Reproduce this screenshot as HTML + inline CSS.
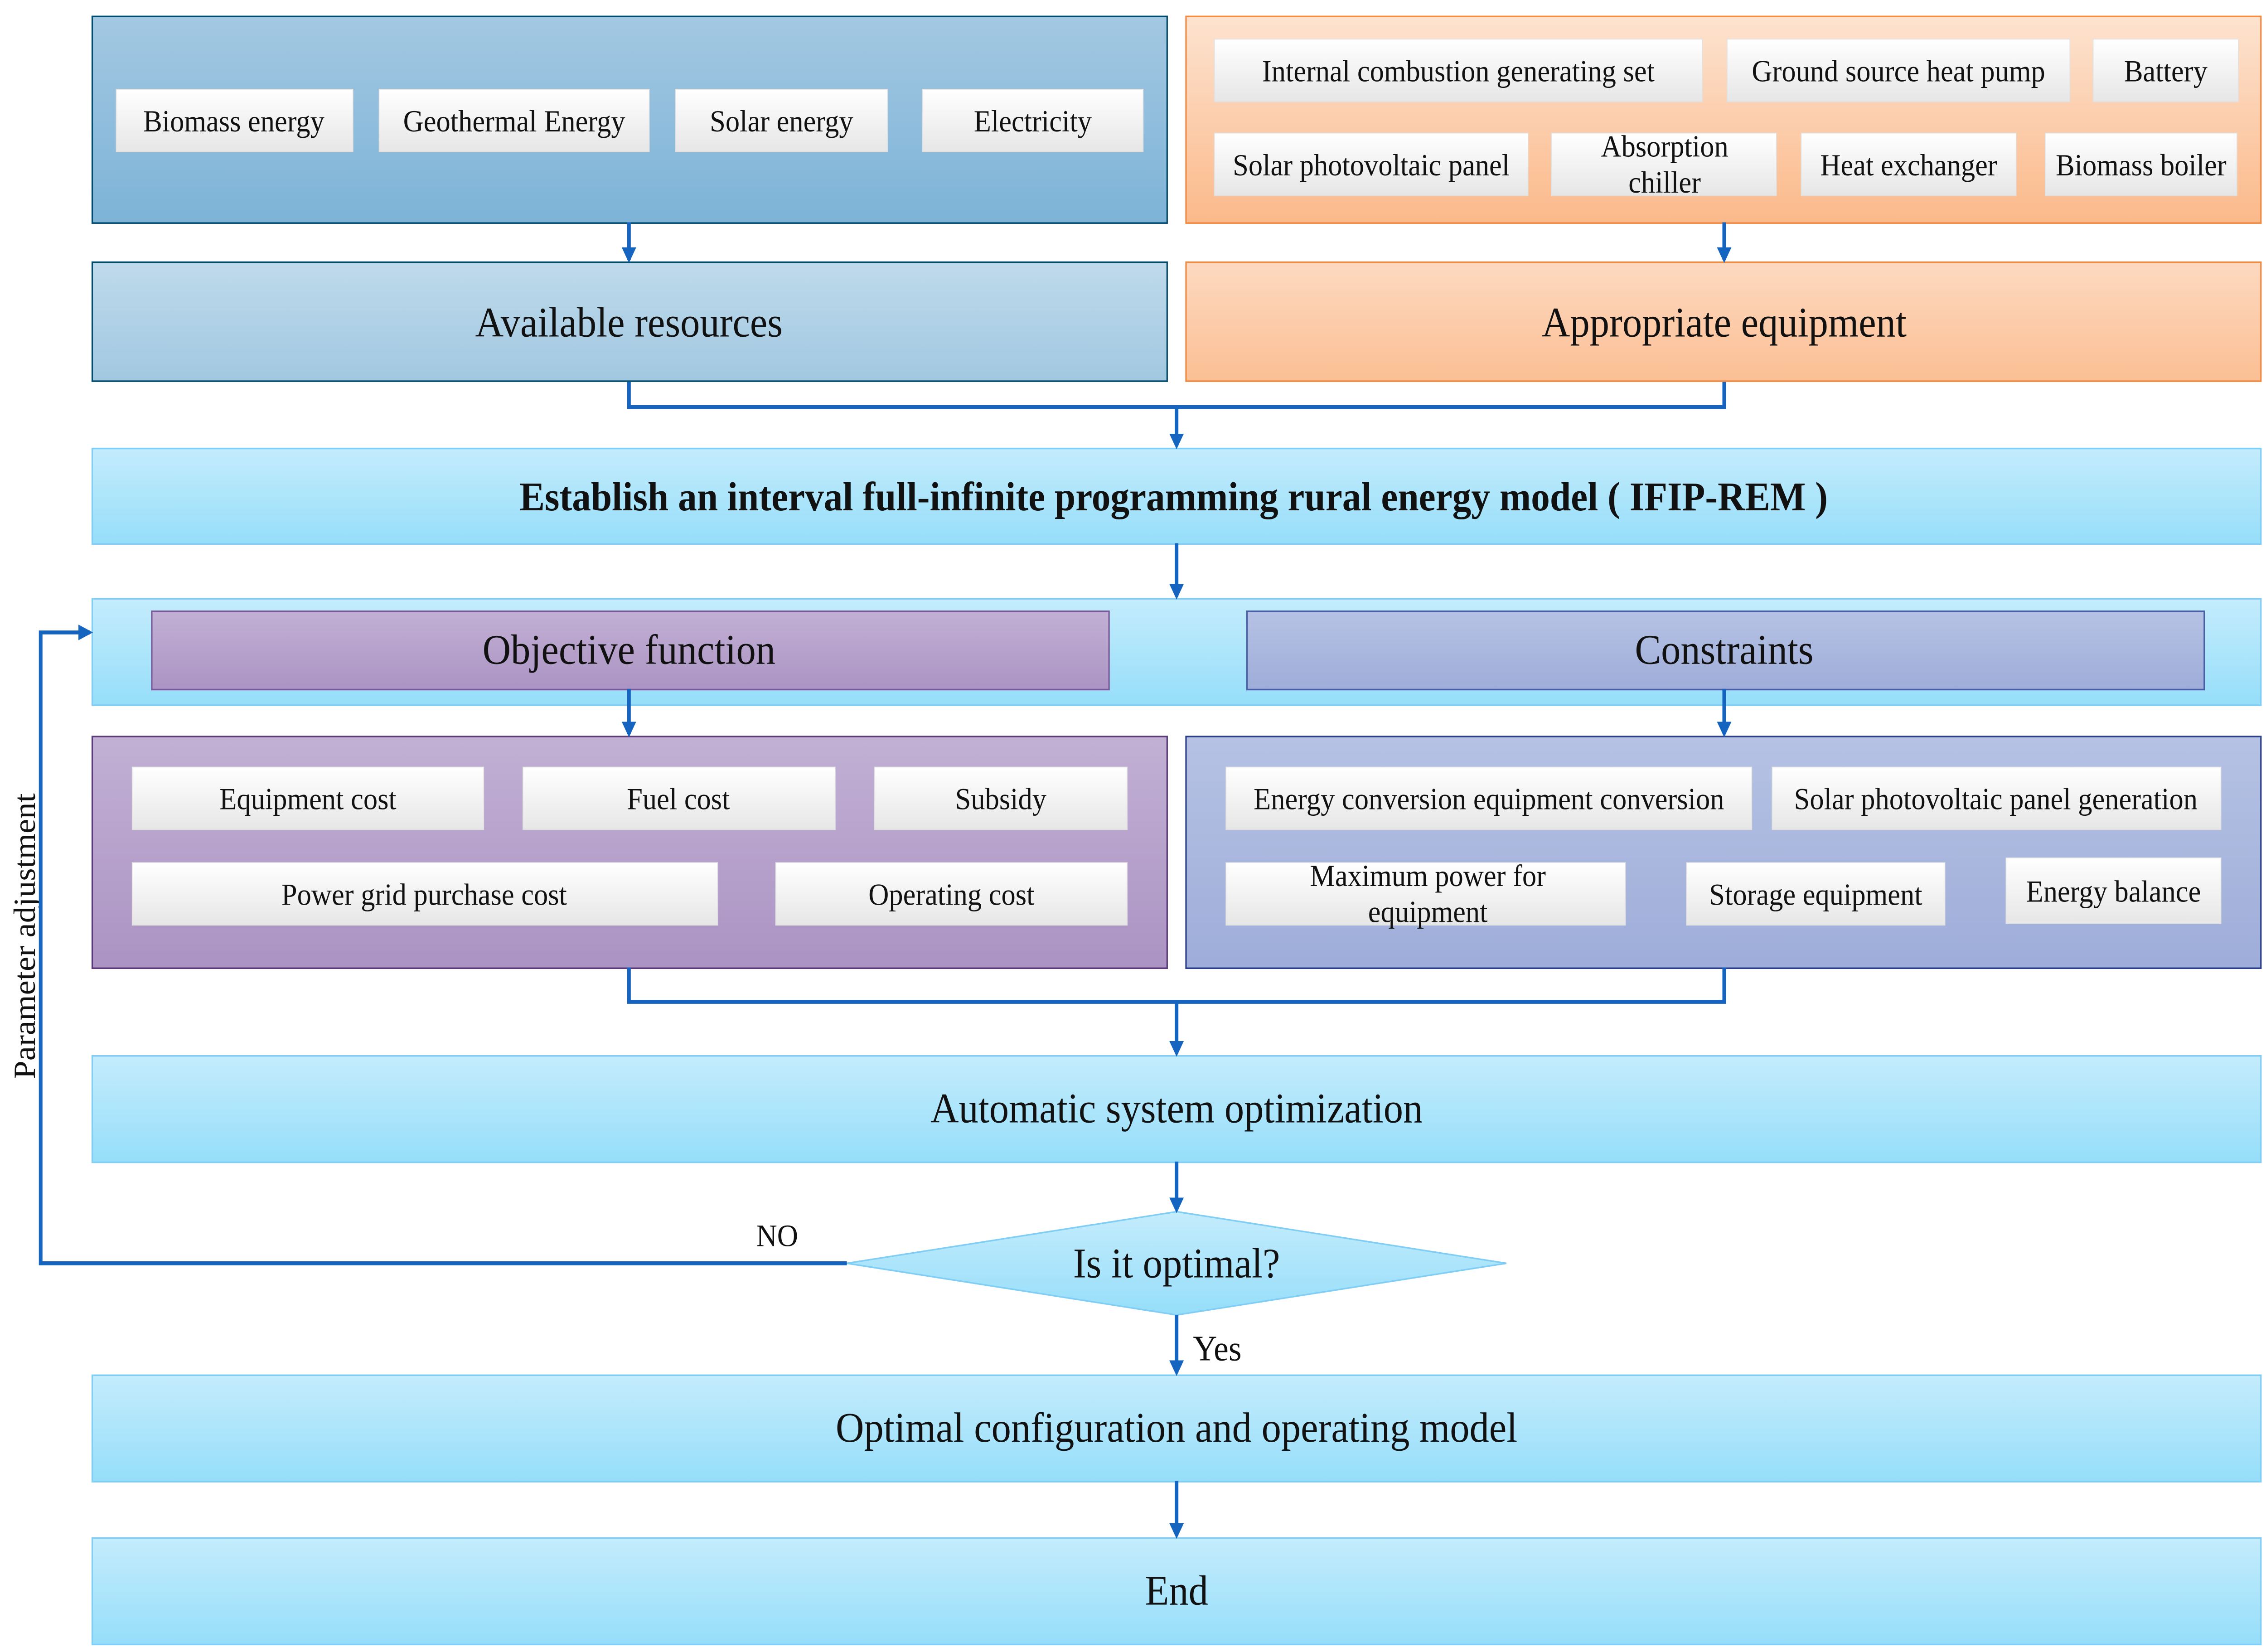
<!DOCTYPE html>
<html><head><meta charset="utf-8"><style>
html,body{margin:0;padding:0;background:#fff;width:100%;height:100%;overflow:hidden}
svg{display:block;width:100vw;height:100vh}
text{font-family:"Liberation Serif",serif;fill:#111}
</style></head><body>
<svg viewBox="0 0 1560 1055.3" preserveAspectRatio="none" xmlns="http://www.w3.org/2000/svg">
<defs>
<linearGradient id="gb" x1="0" y1="0" x2="0" y2="1"><stop offset="0" stop-color="#a3c8e2"/><stop offset="1" stop-color="#7db3d7"/></linearGradient>
<linearGradient id="gb2" x1="0" y1="0" x2="0" y2="1"><stop offset="0" stop-color="#bfdaeb"/><stop offset="1" stop-color="#a1c8e1"/></linearGradient>
<linearGradient id="go" x1="0" y1="0" x2="0" y2="1"><stop offset="0" stop-color="#fde3d0"/><stop offset="1" stop-color="#fbb98a"/></linearGradient>
<linearGradient id="go2" x1="0" y1="0" x2="0" y2="1"><stop offset="0" stop-color="#fdd9c0"/><stop offset="1" stop-color="#fbbf94"/></linearGradient>
<linearGradient id="gc" x1="0" y1="0" x2="0" y2="1"><stop offset="0" stop-color="#c4ecfc"/><stop offset="1" stop-color="#96defa"/></linearGradient>
<linearGradient id="gp" x1="0" y1="0" x2="0" y2="1"><stop offset="0" stop-color="#c2b0d4"/><stop offset="1" stop-color="#ab93c3"/></linearGradient>
<linearGradient id="gv" x1="0" y1="0" x2="0" y2="1"><stop offset="0" stop-color="#b6c2e4"/><stop offset="1" stop-color="#9eadd9"/></linearGradient>
<linearGradient id="gw" x1="0" y1="0" x2="0" y2="1"><stop offset="0" stop-color="#ffffff"/><stop offset="1" stop-color="#e6e6e6"/></linearGradient>
<marker id="ar" markerWidth="10" markerHeight="10" refX="8" refY="5" orient="auto" markerUnits="userSpaceOnUse"><path d="M0,0 L10,5 L0,10 z" fill="#1565c0"/></marker>
</defs>
<g stroke-width="1">
<rect x="63.5" y="10.5" width="740" height="132" fill="url(#gb)" stroke="#004c6c"/>
<rect x="816.5" y="10.5" width="740" height="132" fill="url(#go)" stroke="#f08a40"/>
<rect x="63.5" y="167.5" width="740" height="76" fill="url(#gb2)" stroke="#004c6c"/>
<rect x="816.5" y="167.5" width="740" height="76" fill="url(#go2)" stroke="#f08a40"/>
<rect x="63.5" y="286.5" width="1493" height="61" fill="url(#gc)" stroke="#80cdf5"/>
<rect x="63.5" y="382.5" width="1493" height="68" fill="url(#gc)" stroke="#80cdf5"/>
<rect x="104.5" y="390.5" width="659" height="50" fill="url(#gp)" stroke="#7a5a9a"/>
<rect x="858.5" y="390.5" width="659" height="50" fill="url(#gv)" stroke="#4a5fa8"/>
<rect x="63.5" y="470.5" width="740" height="148" fill="url(#gp)" stroke="#5a3a7a"/>
<rect x="816.5" y="470.5" width="740" height="148" fill="url(#gv)" stroke="#2a3f88"/>
<rect x="63.5" y="674.5" width="1493" height="68" fill="url(#gc)" stroke="#80cdf5"/>
<rect x="63.5" y="878.5" width="1493" height="68" fill="url(#gc)" stroke="#80cdf5"/>
<rect x="63.5" y="982.5" width="1493" height="68" fill="url(#gc)" stroke="#80cdf5"/>
<polygon points="583,807 810,774 1037,807 810,840" fill="url(#gc)" stroke="#80cdf5"/>
</g>
<g fill="url(#gw)" stroke="#e0e0e0" stroke-width="0.5">
<rect x="80" y="57" width="163" height="40"/><rect x="261" y="57" width="186" height="40"/><rect x="465" y="57" width="146" height="40"/><rect x="635" y="57" width="152" height="40"/>
<rect x="836" y="25" width="336" height="40"/><rect x="1189" y="25" width="236" height="40"/><rect x="1441" y="25" width="100" height="40"/>
<rect x="836" y="85" width="216" height="40"/><rect x="1068" y="85" width="155" height="40"/><rect x="1240" y="85" width="148" height="40"/><rect x="1408" y="85" width="132" height="40"/>
<rect x="91" y="490" width="242" height="40"/><rect x="360" y="490" width="215" height="40"/><rect x="602" y="490" width="174" height="40"/>
<rect x="91" y="551" width="403" height="40"/><rect x="534" y="551" width="242" height="40"/>
<rect x="844" y="490" width="362" height="40"/><rect x="1220" y="490" width="309" height="40"/>
<rect x="844" y="551" width="275" height="40"/><rect x="1161" y="551" width="178" height="40"/><rect x="1381" y="548" width="148" height="42"/>
</g>
<g font-size="19.5" text-anchor="middle">
<text x="161" y="84">Biomass energy</text><text x="354" y="84">Geothermal Energy</text><text x="538" y="84">Solar energy</text><text x="711" y="84">Electricity</text>
<text x="1004" y="52">Internal combustion generating set</text><text x="1307" y="52">Ground source heat pump</text><text x="1491" y="52">Battery</text>
<text x="944" y="112">Solar photovoltaic panel</text><text x="1146" y="100">Absorption</text><text x="1146" y="123">chiller</text><text x="1314" y="112">Heat exchanger</text><text x="1474" y="112">Biomass boiler</text>
<text x="212" y="517">Equipment cost</text><text x="467" y="517">Fuel cost</text><text x="689" y="517">Subsidy</text>
<text x="292" y="578">Power grid purchase cost</text><text x="655" y="578">Operating cost</text>
<text x="1025" y="517">Energy conversion equipment conversion</text><text x="1374" y="517">Solar photovoltaic panel generation</text>
<text x="983" y="566">Maximum power for</text><text x="983" y="589">equipment</text><text x="1250" y="578">Storage equipment</text><text x="1455" y="576">Energy balance</text>
</g>
<g font-size="27" text-anchor="middle">
<text x="433" y="215">Available resources</text>
<text x="1187" y="215">Appropriate equipment</text>
<text x="808" y="326" font-weight="bold" font-size="26">Establish  an interval full-infinite programming rural energy model ( IFIP-REM )</text>
<text x="433" y="424">Objective function</text>
<text x="1187" y="424">Constraints</text>
<text x="810" y="717">Automatic system optimization</text>
<text x="810" y="816">Is it optimal?</text>
<text x="810" y="921">Optimal configuration and operating model</text>
<text x="810" y="1025">End</text>
<text x="838" y="869" font-size="23">Yes</text>
<text x="535" y="796" font-size="20">NO</text>
<text transform="translate(24,598) rotate(-90)" font-size="21">Parameter adjustment</text>
</g>
<g stroke="#1565c0" stroke-width="2.5" fill="none">
<line x1="433" y1="142" x2="433" y2="166" marker-end="url(#ar)"/>
<line x1="1187" y1="142" x2="1187" y2="166" marker-end="url(#ar)"/>
<polyline points="433,244 433,260 1187,260 1187,244"/>
<line x1="810" y1="260" x2="810" y2="285" marker-end="url(#ar)"/>
<line x1="810" y1="347" x2="810" y2="381" marker-end="url(#ar)"/>
<line x1="433" y1="440" x2="433" y2="469" marker-end="url(#ar)"/>
<line x1="1187" y1="440" x2="1187" y2="469" marker-end="url(#ar)"/>
<polyline points="433,618 433,640 1187,640 1187,618"/>
<line x1="810" y1="640" x2="810" y2="673" marker-end="url(#ar)"/>
<line x1="810" y1="742" x2="810" y2="773" marker-end="url(#ar)"/>
<line x1="810" y1="840" x2="810" y2="877" marker-end="url(#ar)"/>
<line x1="810" y1="946" x2="810" y2="981" marker-end="url(#ar)"/>
<polyline points="583,807 28,807 28,404 62,404" marker-end="url(#ar)"/>
</g>
</svg>
</body></html>
